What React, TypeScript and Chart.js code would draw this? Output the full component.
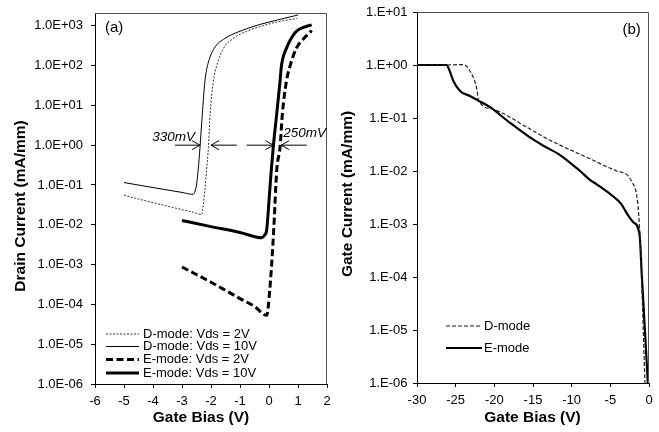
import React, { useEffect, useRef } from "react";
import { Chart, registerables } from "chart.js";

Chart.register(...registerables);

const FONT = "'Liberation Sans', Arial, Helvetica, sans-serif";

// ---------- Panel (a): drain current vs gate bias ----------
const aYTicks = [1e-6, 1e-5, 1e-4, 1e-3, 1e-2, 1e-1, 1, 10, 100, 1000];
const aXMin = -6;
const aXMax = 2;
const aYMin = 1e-6;
const aYMax = 2090;

const aLabels = ["D-mode: Vds = 2V", "D-mode: Vds = 10V", "E-mode: Vds = 2V", "E-mode: Vds = 10V"];

const aD2X = [-5, -4, -3, -2.6, -2.32, -2.27, -2.21, -2.15, -2.09, -2.03, -1.92, -1.8, -1.57, -1.23, -0.83, -0.31, 0.3, 0.96];
const aD2Y = [0.055, 0.036, 0.024, 0.0205, 0.018, 0.03, 0.078, 0.25, 0.86, 6, 40, 100, 270, 480, 700, 950, 1250, 1520];

const aD10X = [-5, -4, -3, -2.61, -2.55, -2.5, -2.44, -2.38, -2.3, -2.21, -2.12, -1.89, -1.52, -1.06, -0.37, 0.3, 1.0];
const aD10Y = [0.115, 0.086, 0.065, 0.058, 0.07, 0.1, 0.25, 0.86, 6, 40, 100, 270, 480, 700, 1050, 1400, 1860];

const aE2X = [-3, -2, -1, -0.5, -0.08, 0.03, 0.15, 0.27, 0.38, 0.46, 0.6, 0.73, 0.94, 1.2, 1.41, 1.47];
const aE2Y = [8.7e-4, 3.6e-4, 1.4e-4, 8.9e-5, 5.3e-5, 2.5e-4, 5e-3, 0.25, 0.87, 6, 40, 100, 270, 480, 680, 760];

const aE10X = [-3, -2, -1, -0.25, -0.15, -0.08, 0.0, 0.07, 0.15, 0.265, 0.38, 0.43, 0.6, 0.92, 1.24, 1.47];
const aE10Y = [0.0128, 0.009, 0.0064, 0.0047, 0.0055, 0.0074, 0.04, 0.195, 0.95, 6, 40, 100, 270, 700, 940, 1050];

// annotation arrows at the 1 mA/mm level
const aArrowFrom = [-3.24, -1.11, -0.77, 1.3];
const aArrowTo = [-2.38, -2.0, 0.15, 0.42];
const aArrowLevel = 1;
const aNoteText = ["330mV", "250mV"];
const aNoteX = [-4.03, 0.49];
const aNoteY = [1.62, 2.04];

// ---------- Panel (b): gate current vs gate bias ----------
const bYTicks = [1e-6, 1e-5, 1e-4, 1e-3, 1e-2, 1e-1, 1, 10];
const bXMin = -30;
const bXMax = 0;
const bLabels = ["D-mode", "E-mode"];

const bDX = [-30, -26.2, -24.0, -22.9, -22.3, -22.0, -20.1, -15.4, -12.8, -7.63, -4.17, -2.2, -1.23, -0.52];
const bDY = [1, 1, 1.02, 0.66, 0.37, 0.21, 0.145, 0.062, 0.038, 0.017, 0.01, 0.0062, 0.00089, 1e-6];

const bEX = [-30, -26.2, -25.8, -25.3, -24.4, -23.15, -22.0, -20.56, -17.97, -15.39, -13.67, -11.5, -8.92, -7.63, -6.76, -4.62, -3.6, -2.88, -2.0, -1.23, -0.92, -0.53, -0.15];
const bEY = [1, 1, 0.79, 0.5, 0.32, 0.26, 0.21, 0.16, 0.081, 0.043, 0.03, 0.02, 0.01, 0.0068, 0.0056, 0.0033, 0.0024, 0.0016, 0.00107, 0.00065, 1e-4, 1e-5, 1e-6];

const pts = (xs: number[], ys: number[]) => xs.map((x, i) => ({ x, y: ys[i] }));

const expStr = (v: number) => {
  const e = Math.round(Math.log10(v));
  const s = e < 0 ? "-" : "+";
  const a = Math.abs(e);
  return s + (a < 10 ? "0" + a : String(a));
};
const fmtA = (v: any) => "1.0E" + expStr(Number(v));
const fmtB = (v: any) => "1.E" + expStr(Number(v));

const tickFont = { family: FONT, size: 13 };

function drawFrame(chart: any) {
  const { ctx, chartArea } = chart;
  ctx.save();
  ctx.strokeStyle = "#555";
  ctx.lineWidth = 1;
  ctx.setLineDash([]);
  ctx.beginPath();
  ctx.moveTo(chartArea.left, chartArea.top + 0.5);
  ctx.lineTo(chartArea.right - 0.5, chartArea.top + 0.5);
  ctx.lineTo(chartArea.right - 0.5, chartArea.bottom);
  ctx.stroke();
  ctx.restore();
}

function drawTitle(ctx: any, text: string, x: number, y: number, rot: boolean) {
  ctx.save();
  ctx.fillStyle = "#000";
  ctx.font = `bold 15.5px ${FONT}`;
  ctx.textAlign = "center";
  ctx.textBaseline = "middle";
  ctx.translate(x, y);
  if (rot) ctx.rotate(-Math.PI / 2);
  ctx.fillText(text, 0, 0);
  ctx.restore();
}

function legendRow(ctx: any, ds: any, x0: number, x1: number, y: number, label: string, tx: number) {
  ctx.save();
  ctx.strokeStyle = ds.borderColor;
  ctx.lineWidth = ds.borderWidth;
  ctx.setLineDash(ds.borderDash || []);
  ctx.beginPath();
  ctx.moveTo(x0, y);
  ctx.lineTo(x1, y);
  ctx.stroke();
  ctx.setLineDash([]);
  ctx.fillStyle = "#000";
  ctx.font = `13px ${FONT}`;
  ctx.textAlign = "left";
  ctx.textBaseline = "middle";
  ctx.fillText(label, tx, y);
  ctx.restore();
}

const plainScale = (extra: any) => ({
  grid: { drawOnChartArea: false, drawTicks: true, tickLength: 4, tickColor: "#000" },
  border: { display: true, color: "#000", width: 1 },
  ...extra,
});

export default function App() {
  const aRef = useRef<HTMLCanvasElement | null>(null);
  const bRef = useRef<HTMLCanvasElement | null>(null);

  useEffect(() => {
    const annotA = {
      id: "annotA",
      afterDraw(chart: any) {
        const { ctx } = chart;
        const xs = chart.scales.x;
        const ys = chart.scales.y;
        drawFrame(chart);
        ctx.save();
        ctx.strokeStyle = "#000";
        ctx.lineWidth = 1;
        ctx.setLineDash([]);
        const yp = ys.getPixelForValue(aArrowLevel);
        for (let i = 0; i < aArrowFrom.length; i++) {
          const x0 = xs.getPixelForValue(aArrowFrom[i]);
          const x1 = xs.getPixelForValue(aArrowTo[i]);
          const d = x1 > x0 ? 1 : -1;
          ctx.beginPath();
          ctx.moveTo(x0, yp);
          ctx.lineTo(x1, yp);
          ctx.moveTo(x1 - d * 8, yp - 4.5);
          ctx.lineTo(x1, yp);
          ctx.lineTo(x1 - d * 8, yp + 4.5);
          ctx.stroke();
        }
        ctx.fillStyle = "#000";
        ctx.font = `italic 13.5px ${FONT}`;
        ctx.textAlign = "left";
        ctx.textBaseline = "middle";
        for (let i = 0; i < aNoteText.length; i++) {
          ctx.fillText(aNoteText[i], xs.getPixelForValue(aNoteX[i]), ys.getPixelForValue(aNoteY[i]));
        }
        ctx.font = `15px ${FONT}`;
        ctx.fillText("(a)", 105, 28);
        ctx.restore();
        const rows = [334, 346.5, 359.5, 373];
        chart.data.datasets.forEach((ds: any, i: number) => legendRow(ctx, ds, 106, 139, rows[i], aLabels[i], 143));
        drawTitle(ctx, "Drain Current (mA/mm)", 21, 206, true);
        drawTitle(ctx, "Gate Bias (V)", 201, 418, false);
      },
    };

    const annotB = {
      id: "annotB",
      afterDraw(chart: any) {
        const { ctx } = chart;
        drawFrame(chart);
        ctx.save();
        ctx.fillStyle = "#000";
        ctx.font = `15px ${FONT}`;
        ctx.textAlign = "center";
        ctx.textBaseline = "middle";
        ctx.fillText("(b)", 301.7, 30);
        ctx.restore();
        const rows = [326, 348];
        chart.data.datasets.forEach((ds: any, i: number) => legendRow(ctx, ds, 116, 152, rows[i], bLabels[i], 154));
        drawTitle(ctx, "Gate Current (mA/mm)", 18, 194, true);
        drawTitle(ctx, "Gate Bias (V)", 202.5, 418, false);
      },
    };

    const common = {
      responsive: false,
      maintainAspectRatio: false,
      animation: false as const,
      devicePixelRatio: 1,
      events: [] as any[],
      plugins: { legend: { display: false }, tooltip: { enabled: false } },
      elements: { point: { radius: 0 } },
    };

    const chartA = new Chart(aRef.current as HTMLCanvasElement, {
      type: "line",
      data: {
        datasets: [
          { label: aLabels[0], data: pts(aD2X, aD2Y), borderColor: "#333", borderWidth: 1, borderDash: [2, 1.5], pointRadius: 0, fill: false, cubicInterpolationMode: "monotone" },
          { label: aLabels[1], data: pts(aD10X, aD10Y), borderColor: "#000", borderWidth: 1, pointRadius: 0, fill: false, cubicInterpolationMode: "monotone" },
          { label: aLabels[2], data: pts(aE2X, aE2Y), borderColor: "#000", borderWidth: 3, borderDash: [7, 3.5], pointRadius: 0, fill: false, cubicInterpolationMode: "monotone" },
          { label: aLabels[3], data: pts(aE10X, aE10Y), borderColor: "#000", borderWidth: 3, pointRadius: 0, fill: false, cubicInterpolationMode: "monotone" },
        ] as any,
      },
      options: {
        ...common,
        layout: { padding: { left: 0, top: 13, right: 3, bottom: 0 } },
        scales: {
          x: plainScale({
            type: "linear",
            min: aXMin,
            max: aXMax,
            ticks: { stepSize: 1, font: tickFont, color: "#000", padding: 6, maxRotation: 0 },
            afterFit(s: any) {
              s.height = 48;
              s.paddingLeft = 0;
              s.paddingRight = 0;
            },
          }),
          y: plainScale({
            type: "logarithmic",
            min: aYMin,
            max: aYMax,
            afterBuildTicks(s: any) {
              s.ticks = aYTicks.map((v) => ({ value: v }));
            },
            ticks: { callback: fmtA, font: tickFont, color: "#000", padding: 8, autoSkip: false },
            afterFit(s: any) {
              s.width = 95;
              s.paddingTop = 0;
              s.paddingBottom = 0;
            },
          }),
        },
      } as any,
      plugins: [annotA],
    });

    const chartB = new Chart(bRef.current as HTMLCanvasElement, {
      type: "line",
      data: {
        datasets: [
          { label: bLabels[0], data: pts(bDX, bDY), borderColor: "#222", borderWidth: 1.2, borderDash: [4, 2], pointRadius: 0, fill: false, cubicInterpolationMode: "monotone" },
          { label: bLabels[1], data: pts(bEX, bEY), borderColor: "#000", borderWidth: 2.2, pointRadius: 0, fill: false, cubicInterpolationMode: "monotone" },
        ] as any,
      },
      options: {
        ...common,
        layout: { padding: { left: 0, top: 12, right: 10, bottom: 0 } },
        scales: {
          x: plainScale({
            type: "linear",
            min: bXMin,
            max: bXMax,
            ticks: { stepSize: 5, font: tickFont, color: "#000", padding: 6, maxRotation: 0 },
            afterFit(s: any) {
              s.height = 49;
              s.paddingLeft = 0;
              s.paddingRight = 0;
            },
          }),
          y: plainScale({
            type: "logarithmic",
            min: 1e-6,
            max: 10,
            afterBuildTicks(s: any) {
              s.ticks = bYTicks.map((v) => ({ value: v }));
            },
            ticks: { callback: fmtB, font: tickFont, color: "#000", padding: 5.5, autoSkip: false },
            afterFit(s: any) {
              s.width = 87;
              s.paddingTop = 0;
              s.paddingBottom = 0;
            },
          }),
        },
      } as any,
      plugins: [annotB],
    });

    return () => {
      chartA.destroy();
      chartB.destroy();
    };
  }, []);

  return (
    <div style={{ position: "absolute", left: 0, top: 0, width: 659, height: 432, background: "#fff" }}>
      <canvas ref={aRef} width={330} height={432} style={{ position: "absolute", left: 0, top: 0 }} />
      <canvas ref={bRef} width={329} height={432} style={{ position: "absolute", left: 330, top: 0 }} />
    </div>
  );
}
